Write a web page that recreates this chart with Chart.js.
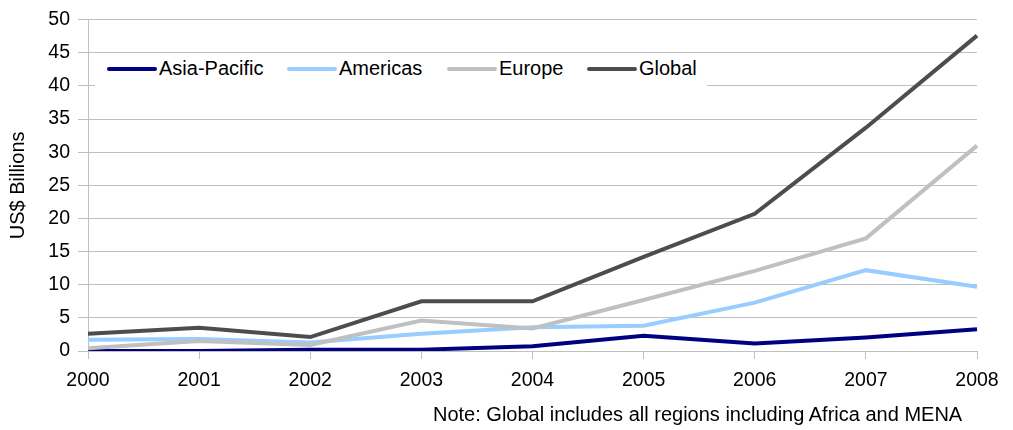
<!DOCTYPE html>
<html>
<head>
<meta charset="utf-8">
<script src="https://cdn.jsdelivr.net/npm/chart.js@4"></script>
<style>
  body { margin: 0; background: #fff; font-family: "Liberation Sans", Arial, sans-serif; }
  #wrap { position: relative; width: 1013px; height: 430px; }
  #legend { position: absolute; left: 95px; top: 55px; width: 612px; height: 31px; background: #fff; }
  .item { position: absolute; top: 2px; font-size: 20px; line-height: 23px; color: #000; white-space: nowrap; }
  .swatch { position: absolute; top: 12px; height: 4px; width: 50px; border-radius: 2px; }
  #note { position: absolute; left: 433px; top: 403px; font-size: 20px; line-height: 23px; color: #000; white-space: nowrap; }
</style>
</head>
<body>
<div id="wrap">
  <canvas id="dataChart" width="1013" height="430"></canvas>
  <div id="legend"></div>
  <div id="note">Note: Global includes all regions including Africa and MENA</div>
</div>
<script>
// years along the x axis
var years = ['2000', '2001', '2002', '2003', '2004', '2005', '2006', '2007', '2008'];

// US$ billions per region
var asiaPacific = [0, 0, 0.2, 0.2, 0.7, 2.3, 1.15, 2.05, 3.3];
var americas = [1.7, 1.8, 1.3, 2.6, 3.6, 3.8, 7.3, 12.2, 9.7];
var europe = [0.4, 1.5, 0.9, 4.6, 3.4, 7.7, 12.1, 17.0, 31.0];
var globalTotal = [2.6, 3.5, 2.1, 7.5, 7.5, 14.2, 20.7, 33.7, 47.6];

var seriesNames = ['Asia-Pacific', 'Americas', 'Europe', 'Global'];
var seriesColors = ['#000080', '#99ccff', '#c0c0c0', '#4d4d4d'];

// legend is an html box sitting on the plot, like the original
var legendSpots = [12, 192, 352, 492];
var legendEl = document.getElementById('legend');
seriesNames.forEach(function(name, i) {
  var sw = document.createElement('span');
  sw.className = 'swatch';
  sw.style.left = legendSpots[i] + 'px';
  sw.style.background = seriesColors[i];
  legendEl.appendChild(sw);
  var lab = document.createElement('span');
  lab.className = 'item';
  lab.style.left = (legendSpots[i] + 52) + 'px';
  lab.textContent = name;
  legendEl.appendChild(lab);
});

var tickFont = { family: 'Liberation Sans', size: 19.5 };
var allSeries = [asiaPacific, americas, europe, globalTotal];
var ctx = document.getElementById('dataChart').getContext('2d');
var dataChart = new Chart(ctx, {
  type: 'line',
  data: {
    labels: years,
    datasets: allSeries.map(function(vals, i) {
      return {
        label: seriesNames[i],
        data: vals,
        borderColor: seriesColors[i],
        backgroundColor: seriesColors[i],
        borderWidth: 4,
        pointRadius: 0,
        tension: 0,
        order: i === 3 ? 0 : 4 - i
      };
    })
  },
  options: {
    responsive: false,
    animation: false,
    layout: { padding: { left: 0, right: 36, top: 18, bottom: 0 } },
    plugins: { legend: { display: false }, tooltip: { enabled: false } },
    scales: {
      x: {
        offset: false,
        grid: { display: true, drawOnChartArea: false, drawTicks: true, tickLength: 8, color: '#c0c0c0', lineWidth: 1 },
        border: { display: true, color: '#c0c0c0' },
        ticks: { color: '#000', font: tickFont, padding: 10, maxRotation: 0 },
        afterFit: function(scale) { scale.height = 79; }
      },
      y: {
        min: 0,
        max: 50,
        ticks: { stepSize: 5, color: '#000', font: tickFont, padding: 8 },
        grid: { color: '#c0c0c0', lineWidth: 1, tickLength: 10 },
        border: { display: true, color: '#c0c0c0' },
        title: { display: true, text: 'US$ Billions', color: '#000', font: { family: 'Liberation Sans', size: 20 }, padding: { top: 6, bottom: 0 } },
        afterFit: function(scale) { scale.width = 88; }
      }
    }
  }
});
</script>
</body>
</html>
